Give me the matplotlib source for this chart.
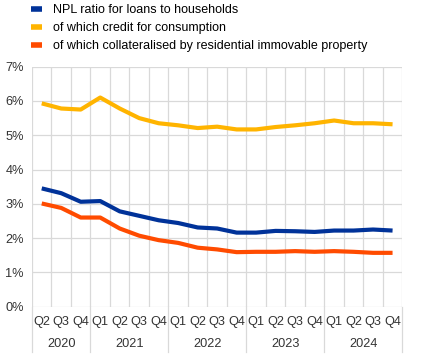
import numpy as np
import matplotlib.pyplot as plt
import matplotlib.transforms as mtransforms

plt.rcParams['font.family'] = ['Liberation Sans', 'DejaVu Sans']

# quarterly data, Q2 2020 - Q4 2024
quarters = ['Q2', 'Q3', 'Q4'] + ['Q1', 'Q2', 'Q3', 'Q4'] * 4
years = ['2020', '2021', '2022', '2023', '2024']
year_lengths = [3, 4, 4, 4, 4]

npl_households = [3.45, 3.31, 3.06, 3.08, 2.78, 2.65, 2.52, 2.44, 2.31, 2.28,
                  2.16, 2.16, 2.21, 2.20, 2.18, 2.22, 2.22, 2.25, 2.22]
npl_consumption = [5.93, 5.78, 5.75, 6.10, 5.78, 5.50, 5.35, 5.29, 5.21, 5.25,
                   5.17, 5.17, 5.24, 5.29, 5.35, 5.43, 5.35, 5.35, 5.32]
npl_residential = [3.01, 2.88, 2.60, 2.60, 2.28, 2.07, 1.94, 1.86, 1.72, 1.67,
                   1.59, 1.60, 1.60, 1.62, 1.60, 1.62, 1.60, 1.57, 1.57]

labels = ['NPL ratio for loans to households',
          'of which credit for consumption',
          'of which collateralised by residential immovable property']
colors = ['#003299', '#FFB400', '#FF4B00']
fs = 9.2

fig = plt.figure(figsize=(4.25, 3.57), dpi=100)
ax = fig.add_axes([0.0753, 0.141, 0.8713, 0.6722])

x = np.arange(len(quarters)) + 0.5
lines = []
for series, col, lab in zip([npl_households, npl_consumption, npl_residential], colors, labels):
    ln, = ax.plot(x, series, color=col, lw=3, label=lab, solid_capstyle='butt', zorder=3)
    lines.append(ln)

ax.set_xlim(0, len(quarters))
ax.set_ylim(0, 7)
ax.set_yticks(range(8))
ax.set_yticklabels([f'{v}%' for v in range(8)], fontsize=fs, color='#333333')
ax.set_xticks(range(len(quarters) + 1))
ax.set_xticklabels([])
ax.tick_params(length=0, pad=6)
ax.grid(True, color='#d9d9d9', lw=0.9)
ax.set_axisbelow(True)
for s in ax.spines.values():
    s.set_visible(False)

# two-level category axis
trans = mtransforms.blended_transform_factory(ax.transData, ax.transAxes)
for xi, q in zip(x, quarters):
    ax.text(xi, -0.065, q, transform=trans, ha='center', va='center', fontsize=fs, color='#333333')
start = 0
bounds = [0]
for yr, n in zip(years, year_lengths):
    ax.text(start + n / 2, -0.155, yr, transform=trans, ha='center', va='center', fontsize=fs, color='#333333')
    start += n
    bounds.append(start)
for b in bounds:
    ax.plot([b, b], [0, -0.19], transform=trans, color='#d9d9d9', lw=0.9, clip_on=False)

fig.legend(handles=lines, loc='upper left', bbox_to_anchor=(0.055, 1.01), frameon=False,
           fontsize=9.0, handlelength=0.85, handletextpad=0.95, labelspacing=0.5,
           borderaxespad=0.2)
for h in fig.legends[0].legend_handles:
    h.set_linewidth(4)

fig.savefig('out.png', dpi=100)
